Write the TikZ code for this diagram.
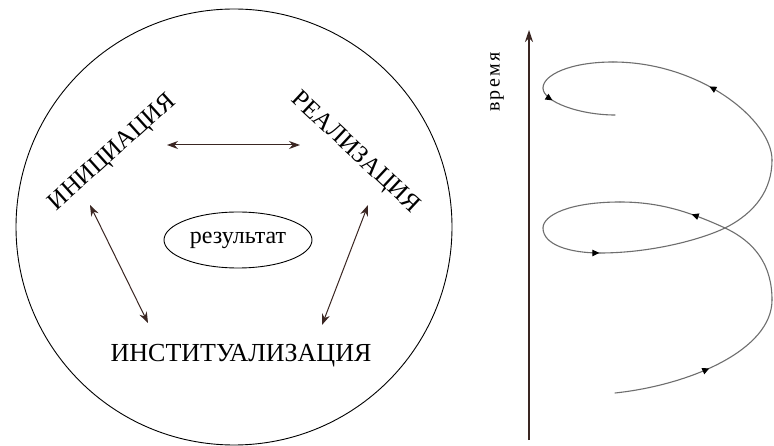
\documentclass[tikz,border=0pt]{standalone}
\usepackage{fontspec}
\setmainfont{Liberation Serif}
\usetikzlibrary{arrows.meta,shapes.geometric,decorations.markings}
\tikzset{
  brownarrow/.style={draw=arrowbrown, line width=1pt, {Stealth[length=11pt,width=8pt]}-{Stealth[length=11pt,width=8pt]}},
  spiral/.style={draw=spiralgray, line width=1.1pt, line cap=round},
  midtip/.style={postaction={decorate}, decoration={markings, mark=at position #1 with {\arrow[black]{Triangle[length=7pt,width=6.5pt]}}}},
  caplabel/.style={font=\fontsize{25}{27}\selectfont, inner sep=0pt},
}
\definecolor{arrowbrown}{HTML}{3A2622}
\definecolor{spiralgray}{HTML}{6E6E6E}
\begin{document}
\begin{tikzpicture}[x=1pt,y=-1pt]
\useasboundingbox[fill=white] (0,0) rectangle (774,446);
% big circle
\node[draw, circle, line width=0.9pt, minimum size=436pt, inner sep=0pt] (circ) at (234,227) {};
% labels
\node[caplabel, rotate=42] (ini) at (113,153) {ИНИЦИАЦИЯ};
\node[caplabel, rotate=-43] (real) at (355,153) {РЕАЛИЗАЦИЯ};
\node[caplabel, font=\fontsize{26}{28}\selectfont, anchor=base] (inst) at (241,362) {ИНСТИТУАЛИЗАЦИЯ};
\node[draw, ellipse, line width=0.9pt, minimum width=148pt, minimum height=56pt, inner sep=0pt, font=\fontsize{24}{26}\selectfont] (res) at (238,240) {результат};
% arrow end points
\coordinate (a1) at (167,145);
\coordinate (a2) at (300,145);
\coordinate (b1) at (90,205);
\coordinate (b2) at (148,323);
\coordinate (c1) at (368,205);
\coordinate (c2) at (322,325);
\draw[brownarrow] (a1) -- (a2);
\draw[brownarrow] (b1) -- (b2);
\draw[brownarrow] (c1) -- (c2);
% time axis
\coordinate (t0) at (529,440);
\coordinate (t1) at (529,30);
\draw[draw=arrowbrown, line width=1.6pt, -{Stealth[length=12pt,width=8pt]}] (t0) -- (t1);
\node[rotate=90, font=\fontsize{20}{22}\selectfont\addfontfeature{LetterSpace=12}, inner sep=0pt] (time) at (497,82) {время};
% spiral
\coordinate (s0) at (615,393);
\coordinate (s1) at (772,300);
\coordinate (s2) at (725,228);
\coordinate (s3) at (620,202);
\coordinate (s4) at (543,228);
\coordinate (s5) at (600,253);
\coordinate (s6) at (772,160);
\coordinate (s7) at (613,62);
\coordinate (s8) at (543,88);
\coordinate (s9) at (615,115);
\draw[spiral, midtip=0.5] (s0) .. controls (690,385) and (772,350) .. (s1);
\draw[spiral] (s1) .. controls (772,265) and (755,242) .. (s2);
\draw[spiral, midtip=0.33] (s2) .. controls (690,212) and (660,202) .. (s3);
\draw[spiral] (s3) .. controls (570,202) and (543,215) .. (s4);
\draw[spiral, midtip=0.99] (s4) .. controls (543,245) and (570,253) .. (s5);
\draw[spiral] (s5) .. controls (650,253) and (700,240) .. (s2);
\draw[spiral] (s2) .. controls (755,213) and (772,190) .. (s6);
\draw[spiral, midtip=0.5] (s6) .. controls (772,120) and (700,62) .. (s7);
\draw[spiral] (s7) .. controls (570,62) and (543,75) .. (s8);
\draw[spiral, midtip=0.2] (s8) .. controls (543,102) and (580,115) .. (s9);
\end{tikzpicture}
\end{document}
